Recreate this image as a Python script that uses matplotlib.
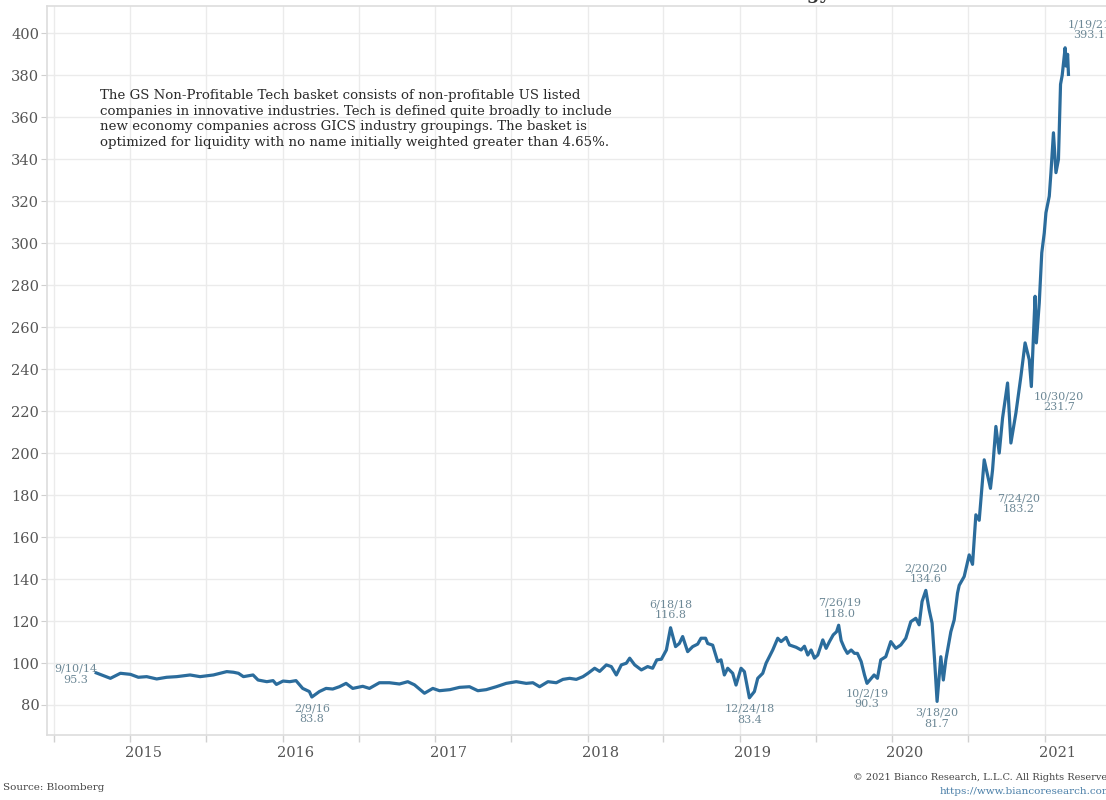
import matplotlib
matplotlib.use("Agg")
import matplotlib.pyplot as plt
import pandas as pd

dates = [
    "2014-09-10", "2014-10-14", "2014-11-07", "2014-12-01", "2014-12-20",
    "2015-01-09", "2015-02-02", "2015-02-26", "2015-03-22", "2015-04-23",
    "2015-05-17", "2015-06-18", "2015-07-04", "2015-07-20", "2015-08-05",
    "2015-08-17", "2015-08-29", "2015-09-21", "2015-10-03", "2015-10-24",
    "2015-11-08", "2015-11-16", "2015-12-02", "2015-12-18", "2016-01-02",
    "2016-01-18", "2016-02-03", "2016-02-09", "2016-02-27", "2016-03-14",
    "2016-03-30", "2016-04-15", "2016-05-01", "2016-05-17", "2016-06-10",
    "2016-06-26", "2016-07-20", "2016-08-13", "2016-09-06", "2016-09-26",
    "2016-10-12", "2016-11-05", "2016-11-25", "2016-12-11", "2017-01-05",
    "2017-01-28", "2017-02-21", "2017-03-13", "2017-04-02", "2017-04-26",
    "2017-05-20", "2017-06-13", "2017-07-07", "2017-07-23", "2017-08-08",
    "2017-08-28", "2017-09-17", "2017-10-03", "2017-10-19", "2017-11-04",
    "2017-11-20", "2017-12-02", "2017-12-18", "2017-12-30", "2018-01-15",
    "2018-01-27", "2018-02-08", "2018-02-20", "2018-03-04", "2018-03-12",
    "2018-03-24", "2018-04-09", "2018-04-24", "2018-05-06", "2018-05-16",
    "2018-05-27", "2018-06-08", "2018-06-18", "2018-06-30", "2018-07-09",
    "2018-07-17", "2018-07-29", "2018-08-10", "2018-08-22", "2018-08-30",
    "2018-09-10", "2018-09-15", "2018-09-27", "2018-10-09", "2018-10-17",
    "2018-10-25", "2018-11-02", "2018-11-14", "2018-11-22", "2018-12-04",
    "2018-12-12", "2018-12-24", "2019-01-05", "2019-01-13", "2019-01-25",
    "2019-02-02", "2019-02-10", "2019-02-18", "2019-03-02", "2019-03-10",
    "2019-03-22", "2019-03-30", "2019-04-15", "2019-04-27", "2019-05-05",
    "2019-05-13", "2019-05-21", "2019-05-29", "2019-06-06", "2019-06-18",
    "2019-06-26", "2019-07-04", "2019-07-13", "2019-07-21", "2019-07-26",
    "2019-08-01", "2019-08-09", "2019-08-16", "2019-08-25", "2019-09-02",
    "2019-09-09", "2019-09-18", "2019-09-26", "2019-10-02", "2019-10-12",
    "2019-10-19", "2019-10-27", "2019-11-04", "2019-11-16", "2019-11-28",
    "2019-12-10", "2019-12-22", "2020-01-03", "2020-01-15", "2020-01-27",
    "2020-02-04", "2020-02-11", "2020-02-20", "2020-02-28", "2020-03-06",
    "2020-03-12", "2020-03-18", "2020-03-27", "2020-04-02", "2020-04-08",
    "2020-04-20", "2020-04-28", "2020-05-06", "2020-05-10", "2020-05-22",
    "2020-06-03", "2020-06-11", "2020-06-19", "2020-06-27", "2020-07-09",
    "2020-07-24", "2020-07-29", "2020-08-06", "2020-08-14", "2020-08-22",
    "2020-09-03", "2020-09-11", "2020-09-23", "2020-10-05", "2020-10-15",
    "2020-10-25", "2020-10-30", "2020-11-08", "2020-11-11", "2020-11-18",
    "2020-11-24", "2020-11-30", "2020-12-04", "2020-12-12", "2020-12-16",
    "2020-12-22", "2020-12-28", "2021-01-03", "2021-01-08", "2021-01-12",
    "2021-01-19", "2021-01-21", "2021-01-25", "2021-01-27",
]

values = [
    95.3, 92.7, 95.1, 94.6, 93.2,
    93.5, 92.4, 93.2, 93.5, 94.3,
    93.5, 94.3, 95.1, 95.9, 95.6,
    95.1, 93.5, 94.3, 91.9, 91.1,
    91.6, 89.8, 91.4, 91.1, 91.6,
    87.9, 86.4, 83.8, 86.4, 87.9,
    87.6, 88.7, 90.3, 87.9, 88.9,
    87.9, 90.6, 90.6, 90.0, 91.1,
    89.6, 85.6, 87.9, 86.8, 87.3,
    88.4, 88.7, 86.8, 87.3, 88.7,
    90.3, 91.1, 90.3, 90.6, 88.7,
    91.1, 90.6, 92.2, 92.7, 92.2,
    93.5, 95.1, 97.5, 96.0, 99.1,
    98.3, 94.3, 99.1, 99.9, 102.3,
    99.1, 96.7, 98.3, 97.5, 101.5,
    101.8, 106.2, 116.8, 107.8, 109.3,
    112.6, 105.4, 107.8, 109.0, 111.8,
    111.8, 109.3, 108.5, 100.7, 101.5,
    94.3, 97.5, 95.1, 89.5, 97.5,
    95.9, 83.4, 86.4, 92.7, 95.1,
    99.9, 103.0, 106.2, 111.8, 110.2,
    112.2, 108.6, 107.5, 106.2, 108.0,
    103.8, 106.2, 102.3, 103.8, 111.0,
    107.0, 110.2, 113.4, 114.9, 118.0,
    110.7, 107.0, 104.6, 106.2, 104.6,
    104.6, 100.7, 94.3, 90.3, 92.7,
    94.3, 92.7, 101.5, 103.0, 110.2,
    107.0, 108.6, 111.8, 119.7, 121.3,
    118.2, 129.3, 134.6, 125.3, 119.0,
    101.5, 81.7, 103.0, 91.9, 101.5,
    114.9, 120.5, 133.3, 137.0, 141.2,
    151.5, 147.0, 170.6, 168.0, 196.8,
    183.2, 192.0, 212.7, 200.0, 216.7,
    233.4, 204.8, 219.1, 236.6, 252.5,
    244.5, 231.7, 274.7, 252.5, 271.6,
    295.4, 304.9, 314.5, 322.4, 333.6,
    352.6, 333.6, 339.9, 375.7, 380.0,
    393.1, 384.4, 390.0, 380.4,
]

ann_dates = ["2014-09-10", "2016-02-09", "2018-06-18", "2018-12-24", "2019-07-26",
             "2019-10-02", "2020-02-20", "2020-03-18", "2020-07-24", "2020-10-30",
             "2021-01-19"]
ann_values = [95.3, 83.8, 116.8, 83.4, 118.0, 90.3, 134.6, 81.7, 183.2, 231.7, 393.1]
ann_labels = ["9/10/14\n95.3", "2/9/16\n83.8", "6/18/18\n116.8", "12/24/18\n83.4",
              "7/26/19\n118.0", "10/2/19\n90.3", "2/20/20\n134.6", "3/18/20\n81.7",
              "7/24/20\n183.2", "10/30/20\n231.7", "1/19/21\n393.1"]
# offsets in points (dx, dy)
ann_offsets = [(-15, -1), (0, -12), (0, 13), (0, -12), (1, 12), (0, -11),
               (0, 12), (0, -12), (20, -11), (20, -11), (17, 13)]

year_labels = ["2015", "2016", "2017", "2018", "2019", "2020", "2021"]
y_ticks = list(range(80, 401, 20))

note = ("The GS Non-Profitable Tech basket consists of non-profitable US listed\n"
        "companies in innovative industries. Tech is defined quite broadly to include\n"
        "new economy companies across GICS industry groupings. The basket is\n"
        "optimized for liquidity with no name initially weighted greater than 4.65%.")

FONT = "DejaVu Serif"
LINE = "#2b6c9c"
ANN = "#6d8896"
GRID = "#ebebeb"

x = pd.to_datetime(dates)

fig = plt.figure(figsize=(11.06, 8.0), dpi=100)
ax = fig.add_axes([47 / 1106, 1 - 735 / 800, 1 - 47 / 1106, (735 - 6) / 800])

ax.plot(x, values, color=LINE, lw=2.3, solid_joinstyle="round", zorder=3)

# grid positions (Jun 1 / Dec 1) as minor ticks, year labels at Jan 1
grid_dates = []
for yr in range(2014, 2022):
    grid_dates.append(pd.Timestamp(f"{yr}-06-01"))
    grid_dates.append(pd.Timestamp(f"{yr}-12-01"))
ax.set_xticks(grid_dates, minor=True)
ax.set_xticks([pd.Timestamp(f"{y}-01-01") for y in year_labels])
ax.set_xticklabels(year_labels)
ax.set_yticks(y_ticks)

ax.set_xlim(pd.Timestamp("2014-05-15"), pd.Timestamp("2021-04-27"))
ax.set_ylim(65.7, 413)

ax.tick_params(axis="x", which="major", length=0, pad=8, labelsize=10.5,
               labelcolor="#555555")
ax.tick_params(axis="x", which="minor", length=5, color="#d0d0d0", width=1)
ax.grid(True, which="minor", axis="x", color=GRID, lw=1)
ax.tick_params(axis="y", length=4.5, color="#d0d0d0", labelsize=10.5,
               labelcolor="#555555", pad=1)
ax.grid(True, which="major", axis="y", color=GRID, lw=1)
for lab in ax.get_xticklabels() + ax.get_yticklabels():
    lab.set_fontfamily(FONT)

for s in ["left", "bottom", "top"]:
    ax.spines[s].set_color("#dddddd")
    ax.spines[s].set_linewidth(1.2)
ax.spines["right"].set_visible(False)
ax.set_axisbelow(True)

for d, v, lab, off in zip(ann_dates, ann_values, ann_labels, ann_offsets):
    ax.annotate(lab, xy=(pd.Timestamp(d), v), xytext=off, textcoords="offset points",
                ha="center", va="center", fontsize=8, color=ANN, family=FONT,
                linespacing=1.15)

fig.text(100 / 1106, 1 - 89 / 800, note, ha="left", va="top", fontsize=9.6,
         family=FONT, color="#2a2a2a", linespacing=1.27)

fig.text(3 / 1106, 1 - 788 / 800, "Source: Bloomberg", ha="left", va="center",
         fontsize=7.5, family=FONT, color="#444444")
fig.text(853 / 1106, 1 - 778 / 800, "\u00a9 2021 Bianco Research, L.L.C. All Rights Reserved",
         ha="left", va="center", fontsize=7.0, family=FONT, color="#444444")
fig.text(940 / 1106, 1 - 792 / 800, "https://www.biancoresearch.com",
         ha="left", va="center", fontsize=7.5, family=FONT, color="#4a7fa8")

fig.text(830 / 1106, 1 + 1 / 800, "Goldman Sachs Non-Profitable Technology",
         ha="right", va="baseline", fontsize=13, family=FONT, color="#333333",
         fontweight="bold")

fig.savefig("out.png", dpi=100)
